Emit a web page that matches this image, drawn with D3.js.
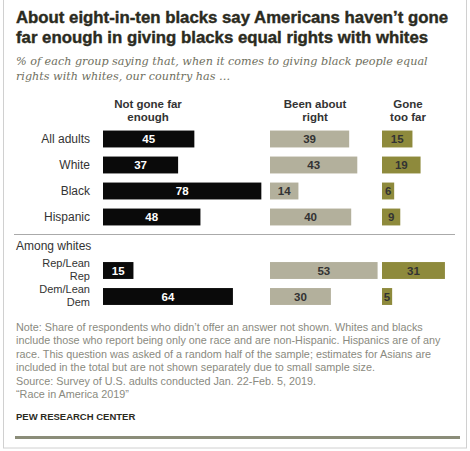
<!DOCTYPE html>
<html lang="en">
<head>
  <meta charset="UTF-8">
  <title>Equal rights chart</title>
  <script src="https://d3js.org/d3.v7.min.js"></script>
  <style>
    body { margin: 0; padding: 0; background: #fff; }
    svg { display: block; font-family: "Liberation Sans", Arial, sans-serif; }
  </style>
</head>
<body>
  <svg width="470" height="451"></svg>
  <script>
    const columns = ["Not gone far enough", "Been about right", "Gone too far"];
    const groups = ["All adults", "White", "Black", "Hispanic"];
    const whites = ["Rep/Lean Rep", "Dem/Lean Dem"];
    const notFarEnough = [45, 37, 78, 48, 15, 64];
    const aboutRight = [39, 43, 14, 40, 53, 30];
    const tooFar = [15, 19, 6, 9, 31, 5];

    const svg = d3.select("svg");

    // frame
    svg.append("rect")
      .attr("x", 3.5).attr("y", -2).attr("width", 463).attr("height", 450)
      .attr("fill", "none").attr("stroke", "#d0d0d0");

    const title = svg.append("text")
      .attr("font-weight", "bold").attr("font-size", 16.8).attr("fill", "#2b2b1e")
      .attr("stroke", "#2b2b1e").attr("stroke-width", 0.4);
    title.append("tspan").attr("x", 16).attr("y", 23)
      .text("About eight-in-ten blacks say Americans haven\u2019t gone");
    title.append("tspan").attr("x", 16).attr("y", 43)
      .text("far enough in giving blacks equal rights with whites");

    const sub = svg.append("text")
      .attr("font-style", "italic").attr("font-size", 11.2).attr("fill", "#6f6f60")
      .attr("font-family", "'DejaVu Serif', serif");
    sub.append("tspan").attr("x", 16).attr("y", 65)
      .text("% of each group saying that, when it comes to giving black people equal");
    sub.append("tspan").attr("x", 16).attr("y", 80)
      .text("rights with whites, our country has \u2026");

    const w = d3.scaleLinear().domain([0, 100]).range([0, 203]);
    const colX = [103, 270, 382];
    const fills = ["#0a0a0a", "#b3b09c", "#8e8a3c"];
    const textFill = ["#fff", "#333", "#333"];
    const series = [notFarEnough, aboutRight, tooFar];

    // column headers
    const headLines = [["Not gone far", "enough"], ["Been about", "right"], ["Gone", "too far"]];
    const headCx = [148, 315, 408];
    headLines.forEach((lines, i) => {
      const t = svg.append("text").attr("text-anchor", "middle")
        .attr("font-weight", "bold").attr("font-size", 11.5).attr("fill", "#333");
      lines.forEach((l, j) => t.append("tspan").attr("x", headCx[i]).attr("y", 108 + j * 13).text(l));
    });

    const y1 = d3.scaleBand().domain(groups).range([126, 230]).paddingInner(0.35).paddingOuter(0.175);
    const y2 = d3.scaleBand().domain(whites).range([257.5, 309.5]).paddingInner(0.35).paddingOuter(0.175);

    const rows = groups.map((g, i) => ({ name: g, y: y1(g), h: y1.bandwidth(), i }))
      .concat(whites.map((g, k) => ({ name: g, y: y2(g), h: y2.bandwidth(), i: k + groups.length, two: true })));

    // row labels
    rows.forEach(r => {
      const t = svg.append("text").attr("text-anchor", "end")
        .attr("font-size", r.two ? 11 : 12).attr("fill", "#333");
      if (r.two) {
        const parts = r.name.split(" ");
        t.append("tspan").attr("x", 90).attr("y", r.y + 5).text(parts[0]);
        t.append("tspan").attr("x", 90).attr("y", r.y + 18).text(parts[1]);
      } else {
        t.attr("x", 90).attr("y", r.y + r.h / 2 + 4).text(r.name);
      }
    });

    series.forEach((vals, c) => {
      const g = svg.append("g");
      g.selectAll("rect").data(rows).join("rect")
        .attr("x", colX[c])
        .attr("y", d => d.y)
        .attr("width", d => w(vals[d.i]))
        .attr("height", d => d.h)
        .attr("fill", fills[c]);
      g.selectAll("text").data(rows).join("text")
        .attr("x", d => colX[c] + w(vals[d.i]) / 2)
        .attr("y", d => d.y + d.h / 2 + 4)
        .attr("text-anchor", "middle")
        .attr("font-size", 11.5).attr("font-weight", "bold")
        .attr("fill", textFill[c])
        .text(d => vals[d.i]);
    });

    svg.append("line").attr("x1", 14).attr("x2", 455).attr("y1", 234.5).attr("y2", 234.5)
      .attr("stroke", "#aaa");
    svg.append("text").attr("x", 16).attr("y", 250).attr("font-size", 12)
      .attr("fill", "#333").text("Among whites");

    const notes = [
      "Note: Share of respondents who didn\u2019t offer an answer not shown. Whites and blacks",
      "include those who report being only one race and are non-Hispanic. Hispanics are of any",
      "race. This question was asked of a random half of the sample; estimates for Asians are",
      "included in the total but are not shown separately due to small sample size.",
      "Source: Survey of U.S. adults conducted Jan. 22-Feb. 5, 2019.",
      "\u201CRace in America 2019\u201D"
    ];
    svg.append("g").selectAll("text").data(notes).join("text")
      .attr("x", 16).attr("y", (d, i) => 331 + i * 13.4)
      .attr("font-size", 10.8).attr("fill", "#8a8a80")
      .text(d => d);

    svg.append("text").attr("x", 16).attr("y", 420)
      .attr("font-size", 9.5).attr("font-weight", "bold").attr("fill", "#2b2b1e")
      .text("PEW RESEARCH CENTER");

    svg.append("rect").attr("x", 15).attr("y", 436).attr("width", 445).attr("height", 3)
      .attr("fill", "#8b8d79");
  </script>
</body>
</html>
